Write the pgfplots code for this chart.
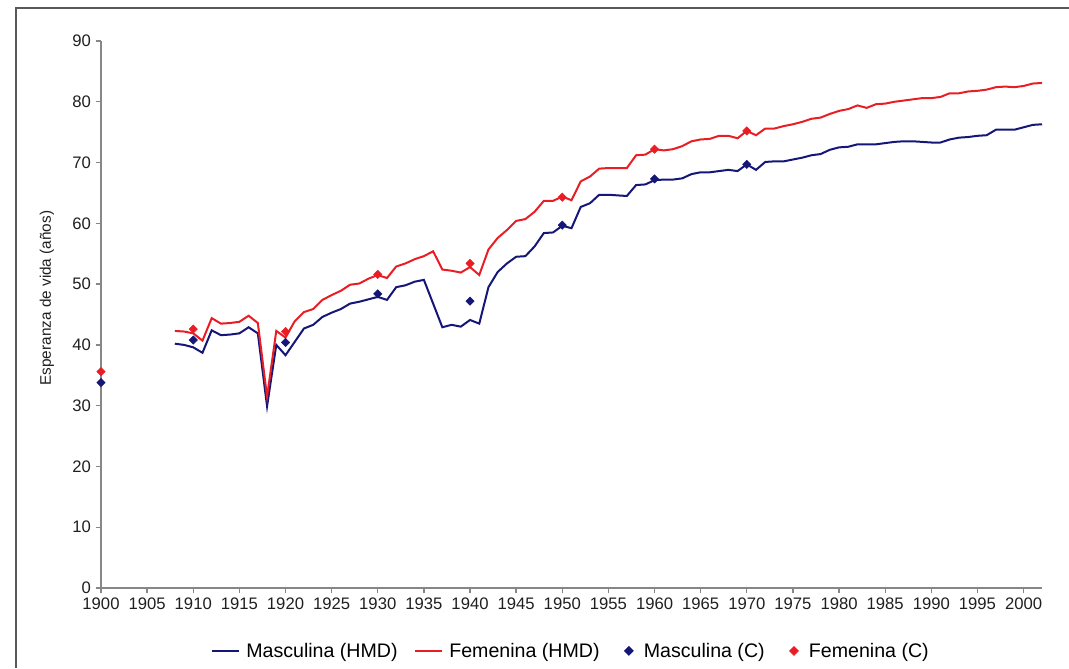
\documentclass[border=0pt]{standalone}
\usepackage{pgfplots}
\pgfplotsset{compat=1.18}
\usepackage{pgfplotstable}
\usepackage{fontspec}
\setmainfont{Liberation Sans}
\definecolor{mnavy}{RGB}{22,22,120}
\definecolor{mred}{RGB}{232,30,36}
\definecolor{axgray}{RGB}{135,135,135}

\pgfplotstableread{
year m f
1908 40.2 42.3
1909 40.0 42.2
1910 39.6 41.9
1911 38.7 40.7
1912 42.4 44.4
1913 41.6 43.5
1914 41.7 43.6
1915 41.9 43.8
1916 42.9 44.8
1917 41.9 43.6
1918 29.9 31.5
1919 40.0 42.3
1920 38.3 41.2
1921 40.5 43.9
1922 42.7 45.4
1923 43.3 45.9
1924 44.6 47.4
1925 45.3 48.2
1926 45.9 48.9
1927 46.8 49.9
1928 47.1 50.1
1929 47.5 50.9
1930 47.9 51.5
1931 47.4 51.0
1932 49.5 52.9
1933 49.8 53.4
1934 50.4 54.1
1935 50.7 54.6
1936 46.8 55.4
1937 42.9 52.4
1938 43.3 52.2
1939 43.0 51.9
1940 44.1 52.8
1941 43.5 51.5
1942 49.5 55.7
1943 52.0 57.6
1944 53.4 58.9
1945 54.5 60.4
1946 54.6 60.7
1947 56.2 61.9
1948 58.4 63.7
1949 58.5 63.7
1950 59.6 64.4
1951 59.2 63.8
1952 62.7 66.9
1953 63.3 67.7
1954 64.7 69.0
1955 64.7 69.1
1956 64.6 69.1
1957 64.5 69.1
1958 66.3 71.2
1959 66.4 71.3
1960 67.1 72.2
1961 67.2 72.0
1962 67.2 72.2
1963 67.4 72.7
1964 68.1 73.5
1965 68.4 73.8
1966 68.4 73.9
1967 68.6 74.4
1968 68.8 74.4
1969 68.6 74.0
1970 69.7 75.2
1971 68.8 74.5
1972 70.1 75.6
1973 70.2 75.6
1974 70.2 76.0
1975 70.5 76.3
1976 70.8 76.7
1977 71.2 77.2
1978 71.4 77.4
1979 72.1 78.0
1980 72.5 78.5
1981 72.6 78.8
1982 73.0 79.4
1983 73.0 79.0
1984 73.0 79.6
1985 73.2 79.7
1986 73.4 80.0
1987 73.5 80.2
1988 73.5 80.4
1989 73.4 80.6
1990 73.3 80.6
1991 73.3 80.8
1992 73.8 81.4
1993 74.1 81.4
1994 74.2 81.7
1995 74.4 81.8
1996 74.5 82.0
1997 75.4 82.4
1998 75.4 82.5
1999 75.4 82.4
2000 75.8 82.6
2001 76.2 83.0
2002 76.3 83.1
}\hmd

\pgfplotstableread{
year m f
1900 33.8 35.6
1910 40.8 42.6
1920 40.4 42.2
1930 48.4 51.6
1940 47.2 53.4
1950 59.7 64.3
1960 67.3 72.2
1970 69.7 75.2
}\censo

\begin{document}
\begin{tikzpicture}
\useasboundingbox (0,0) rectangle (801.75pt,501pt);
\draw[line width=1.5pt, color=black!65] (12pt,0pt) -- (12pt,495pt) -- (801.75pt,495pt);
\begin{axis}[
  at={(75.75pt,60pt)}, anchor=south west,
  scale only axis, width=705.75pt, height=410.25pt,
  xmin=1900, xmax=2002, ymin=0, ymax=90,
  xtick={1900,1905,...,2000}, ytick={0,10,...,90},
  axis lines*=left,
  axis line style={-, line width=1.3pt, color=axgray},
  tick style={line width=1pt, color=axgray},
  tick align=outside, major tick length=4pt,
  xtick pos=left, ytick pos=left,
  ticklabel style={font=\fontsize{12.5}{14}\selectfont, text=black!88},
  /pgf/number format/assume math mode=true,
  /pgf/number format/1000 sep={},
  ylabel={Esperanza de vida (años)},
  ylabel style={font=\fontsize{11.5}{13}\selectfont, text=black!88, at={(axis description cs:-0.0574,0.53)}, anchor=center},
  legend columns=4,
  legend style={at={(axis description cs:0.4995,-0.115)}, anchor=center, draw=none, fill=none,
    font=\fontsize{14.7}{16}\selectfont, text=black,
    /tikz/every odd column/.append style={column sep=3pt},
    /tikz/every even column/.append style={column sep=10pt}},
  clip=false,
]
\addplot[color=mnavy, line width=1.5pt, mark=none,
  legend image code/.code={\draw[mnavy, line width=1.5pt] (0pt,0pt) -- (20.25pt,0pt);}] table[x=year,y=m]{\hmd};
\addlegendentry{Masculina (HMD)}
\addplot[color=mred, line width=1.5pt, mark=none,
  legend image code/.code={\draw[mred, line width=1.5pt] (0pt,0pt) -- (20.25pt,0pt);}] table[x=year,y=f]{\hmd};
\addlegendentry{Femenina (HMD)}
\addplot[only marks, mark=square*, mark size=2.2pt, color=mnavy, mark options={rotate=45, fill=mnavy},
  legend image code/.code={\path (0pt,-2pt) (15.75pt,2pt); \fill[mnavy, rotate around={45:(9.75pt,0pt)}] (7.35pt,-2.4pt) rectangle (12.15pt,2.4pt);}] table[x=year,y=m]{\censo};
\addlegendentry{Masculina (C)}
\addplot[only marks, mark=square*, mark size=2.2pt, color=mred, mark options={rotate=45, fill=mred},
  legend image code/.code={\path (0pt,-2pt) (15.75pt,2pt); \fill[mred, rotate around={45:(9.75pt,0pt)}] (7.35pt,-2.4pt) rectangle (12.15pt,2.4pt);}] table[x=year,y=f]{\censo};
\addlegendentry{Femenina (C)}
\end{axis}
\end{tikzpicture}
\end{document}
